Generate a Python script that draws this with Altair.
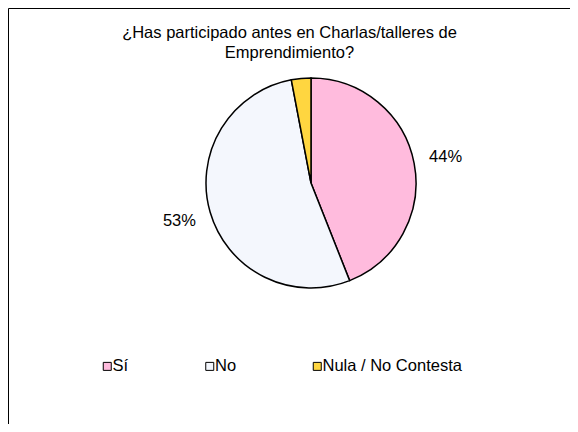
import altair as alt
import pandas as pd

# ---- data ----
categories = ["Sí", "No", "Nula / No Contesta"]
values = [44, 53, 3]
labels = ["44%", "53%", ""]
order_idx = [0, 1, 2]
colors = ["#FFBBDD", "#F4F7FD", "#FFD640"]
title_lines = ["¿Has participado antes en Charlas/talleres de", "Emprendimiento?"]

df = pd.DataFrame({"cat": categories, "value": values, "label": labels, "idx": order_idx})

W, H = 562, 416
CX, CY = 303, 175
R = 105
FONT = "Liberation Sans"

base = alt.Chart(df).encode(
    theta=alt.Theta("value:Q", stack=True),
    order=alt.Order("idx:Q"),
    x=alt.value(CX),
    y=alt.value(CY),
)

pie = base.mark_arc(outerRadius=R, stroke="black", strokeWidth=1.5).encode(
    color=alt.Color(
        "cat:N",
        scale=alt.Scale(domain=categories, range=colors),
        legend=alt.Legend(
            title=None,
            orient="none",
            legendX=91,
            legendY=350,
            direction="horizontal",
            symbolType="square",
            symbolSize=64,
            symbolStrokeColor="black",
            symbolStrokeWidth=1,
            symbolOpacity=1,
            labelFont=FONT,
            labelFontSize=16.5,
            labelColor="black",
            labelOffset={"expr": "-3"},
            columnPadding=72.5,
            padding=0,
        ),
    )
)

text = base.mark_text(radius=137, font=FONT, fontSize=16.5, color="black").encode(
    text="label:N"
)

title = alt.Chart(pd.DataFrame({"t": [0]})).mark_text(
    text=title_lines,
    font=FONT,
    fontSize=16.5,
    lineHeight=20,
    color="black",
    align="center",
    baseline="middle",
).encode(x=alt.value(281.5), y=alt.value(25))

chart = (
    alt.layer(pie, text, title)
    .properties(
        width=W,
        height=H,
        padding=0,
        autosize=alt.AutoSizeParams(type="fit", contains="padding"),
        background="white",
    )
    .configure_view(stroke="black", strokeWidth=1)
)

chart.save("out.html", embed_options={"renderer": "svg", "actions": False})
